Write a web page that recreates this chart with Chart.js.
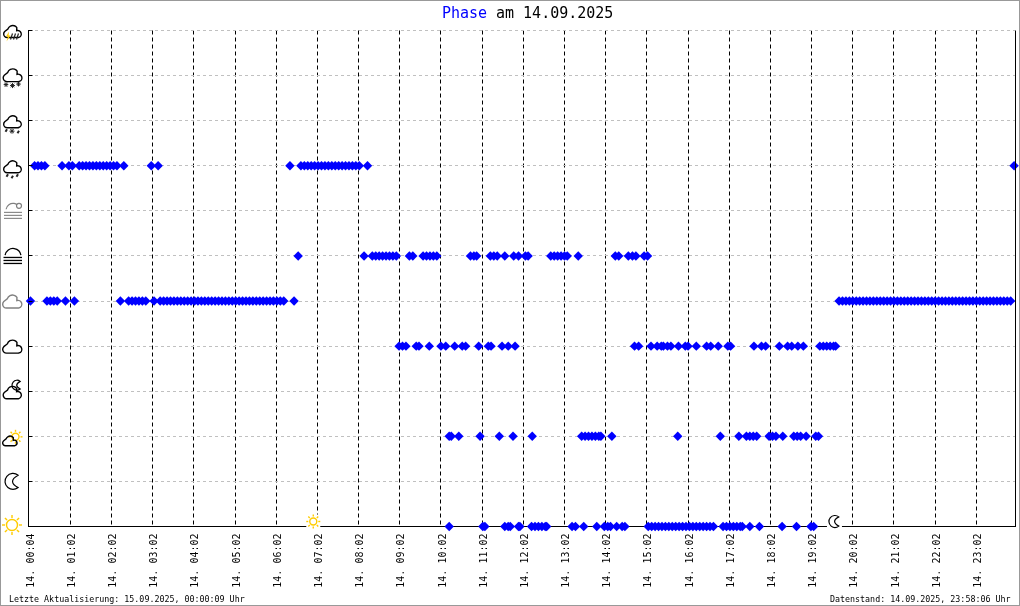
<!DOCTYPE html>
<html lang="de">
<head>
<meta charset="utf-8">
<title>Phase am 14.09.2025</title>
<script src="https://cdn.jsdelivr.net/npm/chart.js@4/dist/chart.umd.min.js"></script>
<style>
html, body { margin: 0; padding: 0; background: #fff; }
canvas { display: block; }
</style>
</head>
<body>
<canvas id="phaseChart" width="1020" height="606"></canvas>
<script>
// Tick labels and where they sit (minutes after midnight)
const tickMinutes = [2, 62, 122, 182, 242, 302, 362, 422, 482, 542, 602, 662, 722, 782, 842, 902, 962, 1022, 1082, 1142, 1202, 1262, 1322, 1382];
const tickLabels = ['14. 00:04', '14. 01:02', '14. 02:02', '14. 03:02', '14. 04:02', '14. 05:02', '14. 06:02', '14. 07:02',
    '14. 08:02', '14. 09:02', '14. 10:02', '14. 11:02', '14. 12:02', '14. 13:02', '14. 14:02', '14. 15:02',
    '14. 16:02', '14. 17:02', '14. 18:02', '14. 19:02', '14. 20:02', '14. 21:02', '14. 22:02', '14. 23:02'];

// Readings per weather phase, minutes after midnight
const sunMinutes = [614, 663, 666, 695, 700, 703, 715, 717, 734, 739, 744, 749, 754, 756, 793, 798, 810, 829, 840, 845, 849, 858, 866, 870,
    904, 909, 914, 919, 924, 929, 934, 939, 944, 949, 954, 959, 964, 969, 974, 979, 984, 989, 994, 999,
    1013, 1018, 1023, 1028, 1033, 1038, 1041, 1052, 1066, 1099, 1120, 1141, 1145];
const moonMinutes = [];
const partlySunnyMinutes = [614, 617, 628, 659, 687, 707, 735, 807, 812, 817, 822, 827, 832, 835, 851, 947, 1009, 1036,
    1047, 1052, 1057, 1062, 1080, 1085, 1090, 1100, 1116, 1121, 1126, 1134, 1148, 1152];
const partlyMoonMinutes = [];
const cloudyMinutes = [541, 546, 551, 566, 570, 585, 602, 609, 622, 633, 638, 657, 671, 675, 691, 700, 710, 884, 890, 908, 917, 923, 926, 932, 937, 948,
    958, 962, 974, 989, 995, 1006, 1020, 1024, 1058, 1069, 1075, 1095, 1107, 1113, 1122, 1130, 1154, 1159, 1164, 1169, 1174, 1177];
const overcastMinutes = [4, 28, 33, 38, 43, 55, 68, 135, 147, 152, 157, 162, 167, 172, 184,
    193, 198, 203, 208, 213, 218, 223, 228, 233, 238, 243, 248, 253, 258, 263, 268, 273, 278, 283, 288, 293, 298, 303, 308, 313, 318, 323, 328, 333, 338, 343, 348, 353, 358, 363, 368, 373, 388,
    1182, 1187, 1192, 1197, 1202, 1207, 1212, 1217, 1222, 1227, 1232, 1237, 1242, 1247, 1252, 1257, 1262, 1267, 1272, 1277, 1282, 1287, 1292, 1297, 1302, 1307, 1312, 1317, 1322, 1327, 1332, 1337, 1342, 1347, 1352, 1357, 1362, 1367, 1372, 1377, 1382, 1387, 1392, 1397, 1402, 1407, 1412, 1417, 1422, 1427, 1432];
const fogMinutes = [394, 490, 502, 507, 512, 517, 522, 527, 532, 537, 556, 561, 576, 581, 586, 591, 596, 645, 650, 654, 674, 679, 684, 695, 708, 715, 725, 729,
    762, 767, 772, 777, 782, 786, 802, 856, 861, 875, 881, 886, 898, 903];
const hazeMinutes = [];
const rainMinutes = [10, 15, 20, 25, 50, 60, 65, 75, 80, 85, 90, 95, 100, 105, 110, 115, 120, 125, 130, 140, 180, 190, 382,
    398, 403, 408, 413, 418, 423, 428, 433, 438, 443, 448, 453, 458, 463, 468, 473, 478, 483, 495, 1437];
const sleetMinutes = [];
const snowMinutes = [];
const stormMinutes = [];

// Bottom to top, same order as the icons on the left
const phaseSeries = [sunMinutes, moonMinutes, partlySunnyMinutes, partlyMoonMinutes, cloudyMinutes, overcastMinutes,
    fogMinutes, hazeMinutes, rainMinutes, sleetMinutes, snowMinutes, stormMinutes];

const sunriseMinute = 416;
const sunsetMinute = 1176;

const MONO = '"DejaVu Sans Mono", "Liberation Mono", monospace';
const YELLOW = '#ffcc00';
const GREY = '#808080';

function drawCloud(ctx, x, y, s, color) {
    ctx.strokeStyle = color;
    ctx.lineWidth = 1.4;
    ctx.beginPath();
    ctx.arc(x + 4 * s, y - 3.8 * s, 3.8 * s, 0.5 * Math.PI, 1.25 * Math.PI);
    ctx.arc(x + 10 * s, y - 7.5 * s, 5.5 * s, 1.1 * Math.PI, 1.8 * Math.PI);
    ctx.arc(x + 15.5 * s, y - 3.8 * s, 3.8 * s, 1.4 * Math.PI, 0.5 * Math.PI);
    ctx.closePath();
    ctx.stroke();
}

function drawSun(ctx, x, y, r, rays) {
    ctx.strokeStyle = YELLOW;
    ctx.lineWidth = 1.4;
    ctx.beginPath();
    ctx.arc(x, y, r, 0, Math.PI * 2);
    ctx.stroke();
    for (let i = 0; i < 8; i++) {
        const a = i * Math.PI / 4;
        ctx.beginPath();
        ctx.moveTo(x + Math.cos(a) * (r + 1.5), y + Math.sin(a) * (r + 1.5));
        ctx.lineTo(x + Math.cos(a) * rays, y + Math.sin(a) * rays);
        ctx.stroke();
    }
}

function drawMoon(ctx, x, y, r) {
    const a = 1.72 * Math.PI;
    ctx.strokeStyle = '#000';
    ctx.lineWidth = 1.2;
    ctx.beginPath();
    ctx.arc(x, y, r, a, 0.28 * Math.PI, true);
    ctx.quadraticCurveTo(x - r * 0.75, y, x + Math.cos(a) * r, y + Math.sin(a) * r);
    ctx.closePath();
    ctx.stroke();
}

function drawDrops(ctx, y, xs) {
    ctx.strokeStyle = '#222';
    ctx.lineWidth = 2;
    xs.forEach((x, i) => {
        const dy = i % 2 ? 1.5 : 0;
        ctx.beginPath();
        ctx.moveTo(x + 1, y + dy);
        ctx.lineTo(x - 0.5, y + dy + 2.5);
        ctx.stroke();
    });
}

function drawFlake(ctx, x, y, r) {
    ctx.strokeStyle = '#222';
    ctx.lineWidth = 1;
    for (let i = 0; i < 4; i++) {
        const a = i * Math.PI / 4;
        ctx.beginPath();
        ctx.moveTo(x - Math.cos(a) * r, y - Math.sin(a) * r);
        ctx.lineTo(x + Math.cos(a) * r, y + Math.sin(a) * r);
        ctx.stroke();
    }
}

function drawLines(ctx, y, x1, x2, color, width, rows) {
    ctx.strokeStyle = color;
    ctx.lineWidth = width;
    for (let i = 0; i < rows; i++) {
        ctx.beginPath();
        ctx.moveTo(x1, y + i * 3);
        ctx.lineTo(x2, y + i * 3);
        ctx.stroke();
    }
}

// One icon per phase, ty is the pixel of the row on the y scale
const phaseIcons = [
    (ctx, ty) => drawSun(ctx, 12, ty - 1.5, 5.5, 10),
    (ctx, ty) => drawMoon(ctx, 13, ty, 8),
    (ctx, ty) => { drawSun(ctx, 15.5, ty + 0.5, 3.5, 7); drawCloud(ctx, 2.5, ty + 9.5, 0.75, '#000'); },
    (ctx, ty) => { drawMoon(ctx, 17, ty - 6, 5); drawCloud(ctx, 3, ty + 7.5, 0.95, '#000'); },
    (ctx, ty) => drawCloud(ctx, 2.5, ty + 7, 1, '#000'),
    (ctx, ty) => drawCloud(ctx, 2.5, ty + 7, 1, GREY),
    (ctx, ty) => {
        ctx.strokeStyle = '#000';
        ctx.lineWidth = 1.3;
        ctx.beginPath();
        ctx.arc(13, ty + 0.5, 8, 1.05 * Math.PI, 1.95 * Math.PI);
        ctx.stroke();
        drawLines(ctx, ty + 1.5, 3.5, 22, '#000', 1.3, 3);
    },
    (ctx, ty) => {
        ctx.strokeStyle = GREY;
        ctx.lineWidth = 1.2;
        ctx.beginPath();
        ctx.arc(13, ty - 0.5, 7, 1.05 * Math.PI, 1.7 * Math.PI);
        ctx.stroke();
        ctx.beginPath();
        ctx.arc(19, ty - 5, 2.5, 0, 2 * Math.PI);
        ctx.stroke();
        drawLines(ctx, ty + 1.5, 4, 22, GREY, 1.1, 3);
    },
    (ctx, ty) => { drawCloud(ctx, 3.5, ty + 7, 0.92, '#000'); drawDrops(ctx, ty + 8.5, [7, 12, 17]); },
    (ctx, ty) => {
        drawCloud(ctx, 3.5, ty + 7, 0.92, '#000');
        drawDrops(ctx, ty + 8.5, [6, 18]);
        drawFlake(ctx, 12, ty + 10.5, 2.5);
    },
    (ctx, ty) => {
        drawCloud(ctx, 3, ty + 6, 0.98, '#000');
        drawFlake(ctx, 6, ty + 9, 2.3);
        drawFlake(ctx, 12.5, ty + 10, 2.5);
        drawFlake(ctx, 18.5, ty + 8.5, 2.3);
    },
    (ctx, ty) => {
        drawCloud(ctx, 3.5, ty + 7, 0.92, '#000');
        ctx.strokeStyle = '#222';
        ctx.lineWidth = 1.2;
        [11, 14, 17].forEach(x => {
            ctx.beginPath();
            ctx.moveTo(x + 1.5, ty + 3);
            ctx.lineTo(x - 0.5, ty + 9);
            ctx.stroke();
        });
        ctx.fillStyle = YELLOW;
        ctx.beginPath();
        ctx.moveTo(9, ty + 1);
        ctx.lineTo(6, ty + 6);
        ctx.lineTo(8, ty + 6);
        ctx.lineTo(6.5, ty + 11);
        ctx.lineTo(10.5, ty + 5);
        ctx.lineTo(8.5, ty + 5);
        ctx.closePath();
        ctx.fill();
    }
];

// Title, footer, frame, right axis, tick marks, icons, sun and moon markers
const decorations = {
    id: 'decorations',
    afterDraw(chart) {
        const { ctx, chartArea, scales } = chart;
        const left = 28.5;
        const right = 1015.5;
        ctx.save();

        ctx.strokeStyle = '#000';
        ctx.lineWidth = 1;
        ctx.beginPath();
        ctx.moveTo(right, chartArea.top);
        ctx.lineTo(right, chartArea.bottom);
        ctx.stroke();

        phaseIcons.forEach((icon, row) => {
            const ty = scales.y.getPixelForValue(row);
            ctx.strokeStyle = '#000';
            ctx.lineWidth = 1;
            ctx.beginPath();
            ctx.moveTo(left, Math.floor(ty) + 0.5);
            ctx.lineTo(left + 4, Math.floor(ty) + 0.5);
            ctx.stroke();
            icon(ctx, ty);
        });

        const base = chartArea.bottom;
        const sunX = scales.x.getPixelForValue(sunriseMinute);
        const moonX = scales.x.getPixelForValue(sunsetMinute);
        ctx.fillStyle = '#fff';
        ctx.fillRect(sunX - 7, base - 12, 14, 14);
        ctx.fillRect(moonX - 8, base - 12, 15, 14);
        drawSun(ctx, sunX, base - 5, 3.5, 7);
        drawMoon(ctx, moonX, base - 5, 6);

        ctx.textBaseline = 'alphabetic';
        ctx.font = '15px ' + MONO;
        ctx.fillStyle = '#0000ff';
        ctx.fillText('Phase', 442, 18);
        ctx.fillStyle = '#000';
        ctx.fillText('am 14.09.2025', 496, 18);

        ctx.font = '8.33px ' + MONO;
        ctx.fillText('Letzte Aktualisierung: 15.09.2025, 00:00:09 Uhr', 9, 602);
        ctx.fillText('Datenstand: 14.09.2025, 23:58:06 Uhr', 830, 602);

        ctx.strokeStyle = '#999';
        ctx.lineWidth = 1;
        ctx.strokeRect(0.5, 0.5, 1019, 605);
        ctx.restore();
    }
};

const phaseCtx = document.getElementById('phaseChart').getContext('2d');
const phaseChart = new Chart(phaseCtx, {
    type: 'scatter',
    data: {
        datasets: [{
            label: 'Phase',
            data: phaseSeries.flatMap((minutes, row) => minutes.map(m => ({ x: m, y: row }))),
            backgroundColor: '#0000ff',
            borderColor: '#0000ff',
            borderWidth: 0,
            pointStyle: 'rectRot',
            pointRadius: 4.7,
            clip: false
        }]
    },
    options: {
        responsive: false,
        animation: false,
        devicePixelRatio: 1,
        layout: { padding: { top: 30.5, right: 5, left: 0, bottom: 0 } },
        plugins: { legend: { display: false }, title: { display: false }, tooltip: { enabled: false } },
        scales: {
            x: {
                type: 'linear',
                min: 0.4,
                max: 1438.3,
                afterFit(scale) { scale.height = 79.5; },
                afterBuildTicks(scale) { scale.ticks = tickMinutes.map(value => ({ value })); },
                // the first tick sits on the y axis, no dashed line there
                grid: { color: ctx => (ctx.index === 0 ? 'transparent' : '#000'), lineWidth: 1, drawTicks: false },
                border: { color: '#000', dash: [4, 3] },
                ticks: {
                    autoSkip: false,
                    minRotation: 90,
                    maxRotation: 90,
                    padding: 7,
                    labelOffset: 2,
                    color: '#000',
                    font: { family: MONO, size: 10 },
                    callback: (value, index) => tickLabels[index]
                }
            },
            y: {
                type: 'linear',
                min: 0,
                max: 11,
                afterFit(scale) { scale.width = 28; },
                grid: { color: '#c0c0c0', lineWidth: 1, drawTicks: false },
                border: { color: '#000', dash: [3, 3] },
                ticks: { display: false, stepSize: 1 }
            }
        }
    },
    plugins: [decorations]
});
</script>
</body>
</html>
